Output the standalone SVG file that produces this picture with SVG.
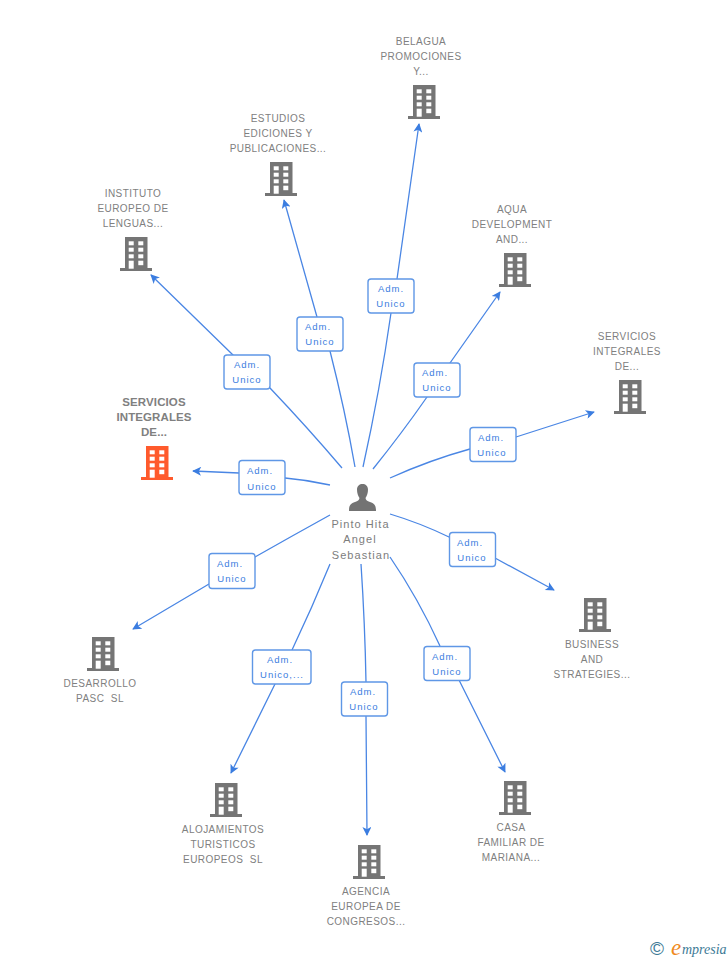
<svg xmlns="http://www.w3.org/2000/svg" width="728" height="960" viewBox="0 0 728 960">
<style>
text{font-family:"Liberation Sans",Arial,sans-serif}
.n{font-size:10px;letter-spacing:.45px;fill:#808080;text-anchor:middle;white-space:pre}
.b{font-weight:bold;font-size:11.500px;letter-spacing:.1px;fill:#808080}
.p{font-size:11px;letter-spacing:1.050px;fill:#7d7d7d;text-anchor:middle}
.l{font-size:9.500px;letter-spacing:1px;fill:#3b7de0;text-anchor:middle}
.box{fill:#fff;stroke:#5f97e6;stroke-width:1.400}
.e{fill:none;stroke:#4a86e4;stroke-width:1.300;marker-end:url(#a)}
.w{fill:#fff}
</style>
<defs>
<marker id="a" viewBox="0 0 10 10" refX="9" refY="5" markerWidth="10" markerHeight="9" markerUnits="userSpaceOnUse" orient="auto"><path d="M0 0L10 5L0 10L2.500 5Z" fill="#3b7de0"/></marker>
<g id="bld">
<path d="M-11 0H11.500V31H16V34H-16V31H-11Z"/>
<g class="w">
<rect x="-7.300" y="4.300" width="5" height="4"/><rect x="2.300" y="4.300" width="5" height="4"/>
<rect x="-7.300" y="10.700" width="5" height="4"/><rect x="2.300" y="10.700" width="5" height="4"/>
<rect x="-7.300" y="17.300" width="5" height="4"/><rect x="2.300" y="17.300" width="5" height="4"/>
<rect x="-7.300" y="23.700" width="5" height="8"/><rect x="2.300" y="23.700" width="5" height="4.500"/>
</g>
</g>
</defs>
<g id="connectors">
<path class="e" d="M342 468Q308 428 270 388L233 355L151 275"/>
<path class="e" d="M355 467Q345 410 330 351L317 317L284 200"/>
<path class="e" d="M363 467Q380 390 391 313L397 279L419 124"/>
<path class="e" d="M373 469Q402 433 427 397L450 363L500 292"/>
<path class="e" d="M390 478Q430 460 470 449L516 437L594 412"/>
<path class="e" d="M330 485Q308 480 285 478L239 473L193 471"/>
<path class="e" d="M390 514Q420 523 449 537L495 558L554 590"/>
<path class="e" d="M330 515Q292 536 255 557L209 584L133 629"/>
<path class="e" d="M330 564Q312 608 292 650L275 684L231 773"/>
<path class="e" d="M361 564Q365 625 366 682L366 716L367 835"/>
<path class="e" d="M390 557Q418 598 440 646L459 680L505 772"/>
</g>
<g id="labels">
<g><rect class="box" x="224" y="355" width="46" height="34" rx="3"/><text class="l" x="247" y="368">Adm.</text><text class="l" x="247" y="383">Unico</text></g>
<g><rect class="box" x="297" y="317" width="46" height="34" rx="3"/><text class="l" x="318" y="330">Adm.</text><text class="l" x="320" y="345">Unico</text></g>
<g><rect class="box" x="368" y="279" width="46" height="34" rx="3"/><text class="l" x="391" y="292">Adm.</text><text class="l" x="391" y="307">Unico</text></g>
<g><rect class="box" x="414" y="363" width="46" height="34" rx="3"/><text class="l" x="435" y="376">Adm.</text><text class="l" x="437" y="391">Unico</text></g>
<g><rect class="box" x="470" y="427.500" width="46" height="34" rx="3"/><text class="l" x="491" y="441">Adm.</text><text class="l" x="492" y="456">Unico</text></g>
<g><rect class="box" x="239" y="460.500" width="46" height="34" rx="3"/><text class="l" x="260" y="474">Adm.</text><text class="l" x="262" y="490">Unico</text></g>
<g><rect class="box" x="449.500" y="532.500" width="46" height="34" rx="3"/><text class="l" x="470" y="546">Adm.</text><text class="l" x="472" y="561">Unico</text></g>
<g><rect class="box" x="209" y="553.500" width="46" height="35" rx="3"/><text class="l" x="230" y="567">Adm.</text><text class="l" x="232" y="582">Unico</text></g>
<g><rect class="box" x="252.500" y="650" width="58.500" height="34" rx="3"/><text class="l" x="280" y="663">Adm.</text><text class="l" x="282" y="678">Unico,...</text></g>
<g><rect class="box" x="341.500" y="682" width="46" height="34" rx="3"/><text class="l" x="363" y="695">Adm.</text><text class="l" x="364" y="710">Unico</text></g>
<g><rect class="box" x="424" y="646.500" width="46" height="34" rx="3"/><text class="l" x="445" y="660">Adm.</text><text class="l" x="447" y="675">Unico</text></g>
</g>
<g id="center"><path d="M357 489.500C357 486 359.500 484 362.500 484C365.500 484 368 486 368 489.500C368 493 367 496 365.500 498C366 500.500 367 501 370 502C374 503.500 376 504.500 376 511H349C349 504.500 351 503.500 355 502C358 501 359 500.500 359.500 498C358 496 357 493 357 489.500Z" fill="#737373"/><text class="p" x="360.500" y="528">Pinto Hita</text><text class="p" x="360" y="543">Angel</text><text class="p" x="361" y="559">Sebastian</text></g>
<g id="n1" fill="#757575"><use href="#bld" x="424" y="85"/><text class="n" x="421" y="45">BELAGUA</text><text class="n" x="421" y="60">PROMOCIONES</text><text class="n" x="421" y="75">Y...</text></g>
<g id="n2" fill="#757575"><use href="#bld" x="281" y="162"/><text class="n" x="278" y="122">ESTUDIOS</text><text class="n" x="278" y="137">EDICIONES Y</text><text class="n" x="278" y="152">PUBLICACIONES...</text></g>
<g id="n3" fill="#757575"><use href="#bld" x="136" y="237"/><text class="n" x="133" y="197">INSTITUTO</text><text class="n" x="133" y="212">EUROPEO DE</text><text class="n" x="133" y="227">LENGUAS...</text></g>
<g id="n4" fill="#757575"><use href="#bld" x="515" y="253"/><text class="n" x="512" y="213">AQUA</text><text class="n" x="512" y="228">DEVELOPMENT</text><text class="n" x="512" y="243">AND...</text></g>
<g id="n5" fill="#757575"><use href="#bld" x="630" y="380"/><text class="n" x="627" y="340">SERVICIOS</text><text class="n" x="627" y="355">INTEGRALES</text><text class="n" x="627" y="370">DE...</text></g>
<g id="n6" fill="#ff5a2c"><use href="#bld" x="157" y="446"/><text class="n b" x="154" y="406">SERVICIOS</text><text class="n b" x="154" y="421">INTEGRALES</text><text class="n b" x="154" y="436">DE...</text></g>
<g id="n7" fill="#757575"><use href="#bld" x="595" y="598"/><text class="n" x="592" y="648">BUSINESS</text><text class="n" x="592" y="663">AND</text><text class="n" x="592" y="678">STRATEGIES...</text></g>
<g id="n8" fill="#757575"><use href="#bld" x="103" y="637"/><text class="n" x="100" y="687">DESARROLLO</text><text class="n" x="100" y="702">PASC  SL</text></g>
<g id="n9" fill="#757575"><use href="#bld" x="226" y="783"/><text class="n" x="223" y="833">ALOJAMIENTOS</text><text class="n" x="223" y="848">TURISTICOS</text><text class="n" x="223" y="863">EUROPEOS  SL</text></g>
<g id="n10" fill="#757575"><use href="#bld" x="369" y="845"/><text class="n" x="366" y="895">AGENCIA</text><text class="n" x="366" y="910">EUROPEA DE</text><text class="n" x="366" y="925">CONGRESOS...</text></g>
<g id="n11" fill="#757575"><use href="#bld" x="515" y="781"/><text class="n" x="511" y="831">CASA</text><text class="n" x="511" y="846">FAMILIAR DE</text><text class="n" x="511" y="861">MARIANA...</text></g>
<g id="logo"><text x="650" y="955" font-size="19" fill="#3d7a96">©</text><text x="671" y="955" font-size="23" font-style="italic" fill="#f08a1d" style="font-family:'Liberation Serif',serif">e</text><text x="682" y="954" font-size="14" font-style="italic" fill="#3d7a96" style="font-family:'Liberation Serif',serif">mpresia</text></g>
</svg>
